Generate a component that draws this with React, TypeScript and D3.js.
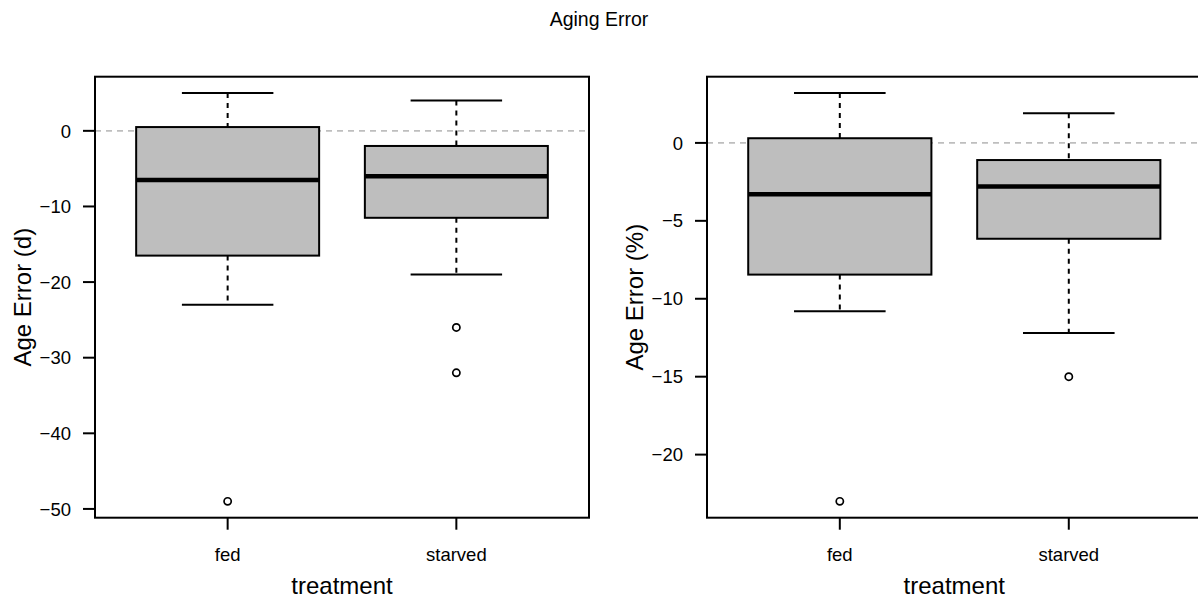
import React from "react";
import * as d3 from "d3";

// Treatment groups shared by both panels
const categories = ["fed", "starved"];

// Age error in days: [lower whisker, Q1, median, Q3, upper whisker]
const daysStats = [
  [-23, -16.5, -6.5, 0.5, 5],
  [-19, -11.5, -6, -2, 4],
];
const daysOutliers = [[-49], [-26, -32]];
const daysTicks = [0, -10, -20, -30, -40, -50];

// Age error in percent: [lower whisker, Q1, median, Q3, upper whisker]
const pctStats = [
  [-10.8, -8.45, -3.3, 0.3, 3.2],
  [-12.2, -6.15, -2.8, -1.1, 1.9],
];
const pctOutliers = [[-23], [-15]];
const pctTicks = [0, -5, -10, -15, -20];

const W = 1198;
const H = 603;
const FONT = "'Liberation Sans', Arial, Helvetica, sans-serif";
const BOX_FILL = "#bebebe";

type PanelProps = {
  left: number;
  right: number;
  top: number;
  bottom: number;
  stats: number[][];
  outliers: number[][];
  ticks: number[];
  ylabel: string;
};

function Panel({ left, right, top, bottom, stats, outliers, ticks, ylabel }: PanelProps) {
  // R-style axis extension: 4% padding on each side of the data range
  const allVals = stats.flat().concat(outliers.flat());
  const [mn, mx] = d3.extent(allVals) as [number, number];
  const pad = (mx - mn) * 0.04;
  const y = d3.scaleLinear().domain([mn - pad, mx + pad]).range([bottom, top]);
  const span = categories.length;
  const xpad = span * 0.04;
  const x = d3
    .scaleLinear()
    .domain([0.5 - xpad, categories.length + 0.5 + xpad])
    .range([left, right]);
  const boxHalf = x(1.4) - x(1);
  const capHalf = x(1.2) - x(1);
  const midY = (top + bottom) / 2;

  return (
    <g>
      {/* reference line at zero */}
      <line
        x1={left}
        x2={right}
        y1={y(0)}
        y2={y(0)}
        stroke="#bebebe"
        strokeWidth={1.8}
        strokeDasharray="6,5"
      />
      {stats.map((s, i) => {
        const cx = x(i + 1);
        const [lo, q1, med, q3, hi] = s;
        return (
          <g key={categories[i]}>
            <line x1={cx} x2={cx} y1={y(hi)} y2={y(q3)} stroke="#000" strokeWidth={2} strokeDasharray="5,5" />
            <line x1={cx} x2={cx} y1={y(q1)} y2={y(lo)} stroke="#000" strokeWidth={2} strokeDasharray="5,5" />
            <line x1={cx - capHalf} x2={cx + capHalf} y1={y(hi)} y2={y(hi)} stroke="#000" strokeWidth={2} />
            <line x1={cx - capHalf} x2={cx + capHalf} y1={y(lo)} y2={y(lo)} stroke="#000" strokeWidth={2} />
            <rect
              x={cx - boxHalf}
              y={y(q3)}
              width={boxHalf * 2}
              height={y(q1) - y(q3)}
              fill={BOX_FILL}
              stroke="#000"
              strokeWidth={2}
            />
            <line x1={cx - boxHalf} x2={cx + boxHalf} y1={y(med)} y2={y(med)} stroke="#000" strokeWidth={4.5} />
            {outliers[i].map((o, j) => (
              <circle key={j} cx={cx} cy={y(o)} r={3.6} fill="none" stroke="#000" strokeWidth={1.7} />
            ))}
          </g>
        );
      })}
      {/* frame */}
      <rect x={left} y={top} width={right - left} height={bottom - top} fill="none" stroke="#000" strokeWidth={2} />
      {/* y axis */}
      {ticks.map((t) => (
        <g key={t}>
          <line x1={left - 12} x2={left} y1={y(t)} y2={y(t)} stroke="#000" strokeWidth={2} />
          <text
            x={left - 24}
            y={y(t)}
            dy="0.36em"
            textAnchor="end"
            fontSize={18.5}
            fontFamily={FONT}
            fill="#000"
          >
            {t < 0 ? "\u2212" + Math.abs(t) : String(t)}
          </text>
        </g>
      ))}
      {/* x axis */}
      {categories.map((c, i) => (
        <g key={c}>
          <line x1={x(i + 1)} x2={x(i + 1)} y1={bottom} y2={bottom + 12} stroke="#000" strokeWidth={2} />
          <text x={x(i + 1)} y={561} textAnchor="middle" fontSize={18.5} fontFamily={FONT} fill="#000">
            {c}
          </text>
        </g>
      ))}
      <text
        x={(left + right) / 2}
        y={594}
        textAnchor="middle"
        fontSize={24}
        fontFamily={FONT}
        fill="#000"
      >
        treatment
      </text>
      <text
        transform={`translate(${left - 72},${midY}) rotate(-90)`}
        dy="0.35em"
        textAnchor="middle"
        fontSize={24}
        fontFamily={FONT}
        fill="#000"
      >
        {ylabel}
      </text>
    </g>
  );
}

export default function App() {
  return (
    <svg
      width={W}
      height={H}
      viewBox={`0 0 ${W} ${H}`}
      style={{ position: "absolute", left: 0, top: 0, background: "#fff" }}
    >
      <rect x={0} y={0} width={W} height={H} fill="#fff" />
      <text x={W / 2} y={26} textAnchor="middle" fontSize={19.5} fontFamily={FONT} fill="#000">
        Aging Error
      </text>
      <Panel
        left={95}
        right={589}
        top={76.7}
        bottom={517.7}
        stats={daysStats}
        outliers={daysOutliers}
        ticks={daysTicks}
        ylabel="Age Error (d)"
      />
      <Panel
        left={707}
        right={1201.6}
        top={76.7}
        bottom={517.7}
        stats={pctStats}
        outliers={pctOutliers}
        ticks={pctTicks}
        ylabel="Age Error (%)"
      />
    </svg>
  );
}
